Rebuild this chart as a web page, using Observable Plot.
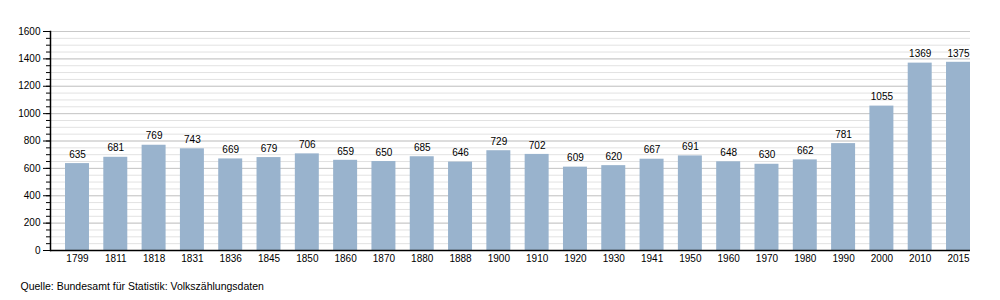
<!DOCTYPE html>
<html>
<head>
<meta charset="utf-8">
<script src="https://cdn.jsdelivr.net/npm/d3@7"></script>
<script src="https://cdn.jsdelivr.net/npm/@observablehq/plot@0.6"></script>
<style>
body { margin: 0; background: #fff; }
svg { font-family: "Liberation Sans", Arial, sans-serif; }
</style>
</head>
<body>
<div id="chart"></div>
<script>
const years = ["1799","1811","1818","1831","1836","1845","1850","1860","1870","1880","1888","1900","1910","1920","1930","1941","1950","1960","1970","1980","1990","2000","2010","2015"];
const population = [635,681,769,743,669,679,706,659,650,685,646,729,702,609,620,667,691,648,630,662,781,1055,1369,1375];
const majorTicks = [0,200,400,600,800,1000,1200,1400,1600];
const minorTicks = d3.range(0, 1601, 50);
const caption = "Quelle: Bundesamt für Statistik: Volkszählungsdaten";

const data = years.map((y, i) => ({year: y, value: population[i]}));

const chart = Plot.plot({
  width: 1000,
  height: 300,
  marginLeft: 50,
  marginRight: 30,
  marginTop: 31,
  marginBottom: 50,
  style: {fontFamily: "Liberation Sans, Arial, sans-serif", fontSize: "10px", color: "#000", background: "#fff"},
  x: {domain: years, range: [65, 970], paddingInner: 0.374, paddingOuter: 0, round: false, label: null},
  y: {domain: [0, 1600], label: null},
  marks: [
    Plot.ruleY(minorTicks.filter(d => d > 0), {stroke: "#e2e2e2", strokeWidth: 1}),
    Plot.ruleY(majorTicks.filter(d => d > 0), {stroke: "#c8c8c8", strokeWidth: 1}),
    Plot.barY(data, {x: "year", y: "value", fill: "#99b3cd"}),
    Plot.text(data, {x: "year", y: "value", text: d => String(d.value), dy: -9, fill: "#000", fontSize: 10}),
    Plot.axisY({ticks: minorTicks, tickSize: 4, tickFormat: () => "", stroke: "#000"}),
    Plot.axisY({ticks: majorTicks, tickSize: 7, tickPadding: 3, tickFormat: d => String(d), fill: "#000", stroke: "#000", fontSize: 10}),
    Plot.axisX({tickSize: 0, tickPadding: 4, fill: "#000", fontSize: 10}),
    Plot.ruleY([0], {stroke: "#000", strokeWidth: 1.5}),
    Plot.frame({anchor: "left", stroke: "#000", strokeWidth: 1.5}),
    Plot.text([caption], {frameAnchor: "bottom-left", dx: -30, dy: 39, text: d => d, textAnchor: "start", fill: "#000", fontSize: 10.5})
  ]
});
document.getElementById("chart").appendChild(chart);
</script>
</body>
</html>
